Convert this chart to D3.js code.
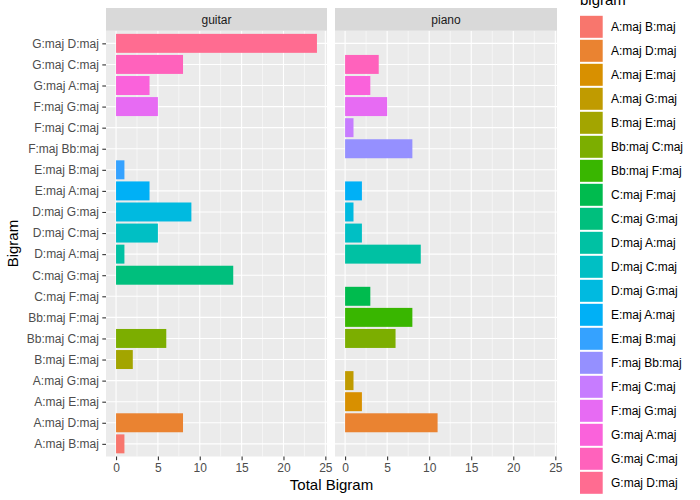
<!DOCTYPE html>
<html>
<head>
<meta charset="utf-8">
<script src="https://cdn.jsdelivr.net/npm/d3@7"></script>
<style>
  body { margin: 0; background: #fff; }
  text { font-family: "Liberation Sans", Arial, Helvetica, sans-serif; }
</style>
</head>
<body>
<div id="chart"></div>
<script>
// bigram levels, in factor order (bottom of the y axis first)
var bigrams = ["A:maj B:maj", "A:maj D:maj", "A:maj E:maj", "A:maj G:maj", "B:maj E:maj",
               "Bb:maj C:maj", "Bb:maj F:maj", "C:maj F:maj", "C:maj G:maj", "D:maj A:maj",
               "D:maj C:maj", "D:maj G:maj", "E:maj A:maj", "E:maj B:maj", "F:maj Bb:maj",
               "F:maj C:maj", "F:maj G:maj", "G:maj A:maj", "G:maj C:maj", "G:maj D:maj"];

var instruments = ["guitar", "piano"];

// total count per bigram, same order as bigrams (0 = no bar)
var guitarTotals = [1, 8, 0, 0, 2, 6, 0, 0, 14, 1, 5, 9, 4, 1, 0, 0, 5, 4, 8, 24];
var pianoTotals  = [0, 11, 2, 1, 0, 6, 8, 3, 0, 9, 2, 1, 2, 0, 8, 1, 5, 3, 4, 0];

var xTicks = [0, 5, 10, 15, 20, 25];
var xMinor = [2.5, 7.5, 12.5, 17.5, 22.5];

// ggplot default hue palette for 20 levels
var huePalette = ["#F8766D", "#EA8331", "#D89000", "#C09B00", "#A3A500", "#7CAE00", "#39B600",
                  "#00BB4E", "#00BF7D", "#00C1A3", "#00BFC4", "#00BAE0", "#00B0F6", "#35A2FF",
                  "#9590FF", "#C77CFF", "#E76BF3", "#FA62DB", "#FF62BC", "#FF6C91"];

var totals = { guitar: guitarTotals, piano: pianoTotals };

var width = 700, height = 500;
var panelTop = 30.7, panelBottom = 456.5, stripTop = 8;
var panelX = { guitar: [106, 327], piano: [335, 557] };

var svg = d3.select("#chart").append("svg")
    .attr("width", width)
    .attr("height", height);

var color = d3.scaleOrdinal().domain(bigrams).range(huePalette);

var y = d3.scalePoint()
    .domain(bigrams)
    .range([panelBottom, panelTop])
    .padding(0.6);

var barH = y.step() * 0.9;

instruments.forEach(function (inst) {
    var x = d3.scaleLinear()
        .domain([-1.2, 25.2])
        .range(panelX[inst]);

    var g = svg.append("g").attr("class", "panel-" + inst);

    // panel background
    g.append("rect")
        .attr("x", panelX[inst][0])
        .attr("y", panelTop)
        .attr("width", panelX[inst][1] - panelX[inst][0])
        .attr("height", panelBottom - panelTop)
        .style("fill", "#EBEBEB");

    // minor grid
    g.selectAll(".minor").data(xMinor).enter().append("line")
        .attr("x1", function (d) { return x(d); })
        .attr("x2", function (d) { return x(d); })
        .attr("y1", panelTop).attr("y2", panelBottom)
        .style("stroke", "#fff").style("stroke-width", 0.55);

    // major grid
    g.selectAll(".majorx").data(xTicks).enter().append("line")
        .attr("x1", function (d) { return x(d); })
        .attr("x2", function (d) { return x(d); })
        .attr("y1", panelTop).attr("y2", panelBottom)
        .style("stroke", "#fff").style("stroke-width", 1.1);

    g.selectAll(".majory").data(bigrams).enter().append("line")
        .attr("x1", panelX[inst][0]).attr("x2", panelX[inst][1])
        .attr("y1", function (d) { return y(d); })
        .attr("y2", function (d) { return y(d); })
        .style("stroke", "#fff").style("stroke-width", 1.1);

    // bars
    var rows = bigrams.map(function (b, i) { return { bigram: b, value: totals[inst][i] }; })
        .filter(function (d) { return d.value > 0; });

    g.selectAll(".bar").data(rows).enter().append("rect")
        .attr("class", "bar")
        .attr("x", x(0))
        .attr("y", function (d) { return y(d.bigram) - barH / 2; })
        .attr("width", function (d) { return x(d.value) - x(0); })
        .attr("height", barH)
        .style("fill", function (d) { return color(d.bigram); });

    // strip
    g.append("rect")
        .attr("x", panelX[inst][0])
        .attr("y", stripTop)
        .attr("width", panelX[inst][1] - panelX[inst][0])
        .attr("height", panelTop - stripTop)
        .style("fill", "#D9D9D9");

    g.append("text")
        .attr("x", (panelX[inst][0] + panelX[inst][1]) / 2)
        .attr("y", (stripTop + panelTop) / 2)
        .attr("dy", "0.35em")
        .attr("text-anchor", "middle")
        .style("font-size", "12px")
        .style("fill", "#1A1A1A")
        .text(inst);

    // x axis
    var xAxis = d3.axisBottom(x).tickValues(xTicks).tickSize(3.7).tickPadding(3);
    var gx = svg.append("g")
        .attr("transform", "translate(0," + panelBottom + ")")
        .call(xAxis);
    gx.select(".domain").remove();
    gx.selectAll("line").style("stroke", "#333333").style("stroke-width", 1.1);
    gx.selectAll("text")
        .style("font-size", "12px")
        .style("fill", "#4D4D4D")
        .style("font-family", "Liberation Sans, Arial, sans-serif");
});

// y axis on the left of the first panel
var yAxis = d3.axisLeft(y).tickSize(3.7).tickPadding(3.5);
var gy = svg.append("g")
    .attr("transform", "translate(" + panelX.guitar[0] + ",0)")
    .call(yAxis);
gy.select(".domain").remove();
gy.selectAll("line").style("stroke", "#333333").style("stroke-width", 1.1);
gy.selectAll("text")
    .style("font-size", "12px")
    .style("fill", "#4D4D4D")
    .style("font-family", "Liberation Sans, Arial, sans-serif");

// axis titles
svg.append("text")
    .attr("x", (panelX.guitar[0] + panelX.piano[1]) / 2)
    .attr("y", 490)
    .attr("text-anchor", "middle")
    .style("font-size", "15px")
    .text("Total Bigram");

svg.append("text")
    .attr("transform", "translate(18," + (panelTop + panelBottom) / 2 + ") rotate(-90)")
    .attr("text-anchor", "middle")
    .style("font-size", "15px")
    .text("Bigram");

// legend
var legend = svg.append("g").attr("class", "legend");

legend.append("text")
    .attr("x", 580)
    .attr("y", 5)
    .style("font-size", "15px")
    .text("bigram");

var keys = legend.selectAll(".key").data(bigrams).enter().append("g")
    .attr("transform", function (d, i) { return "translate(580," + (15 + i * 24) + ")"; });

keys.append("rect")
    .attr("x", 0).attr("y", 0.8)
    .attr("width", 22.7).attr("height", 22)
    .style("fill", function (d) { return color(d); });

keys.append("text")
    .attr("x", 31)
    .attr("y", 12)
    .attr("dy", "0.35em")
    .style("font-size", "12px")
    .text(function (d) { return d; });
</script>
</body>
</html>
